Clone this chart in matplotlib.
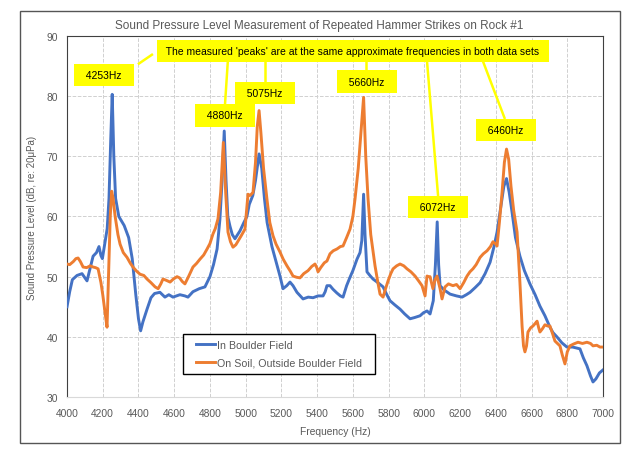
import numpy as np
import matplotlib.pyplot as plt
from matplotlib.patches import Rectangle

plt.rcParams['font.family'] = ['Liberation Sans', 'DejaVu Sans']

# In Boulder Field (blue)
boulder_freq = [4000, 4015, 4030, 4056, 4084, 4112, 4130, 4146, 4165, 4179, 4190, 4198, 4213, 4225,
                4235, 4245, 4253, 4262, 4272, 4290, 4320, 4345, 4365, 4385, 4400, 4412, 4425, 4448,
                4470, 4490, 4520, 4548, 4570, 4593, 4632, 4660, 4677, 4705, 4740, 4772, 4800, 4820,
                4840, 4856, 4868, 4880, 4890, 4900, 4912, 4925, 4940, 4955, 4968, 4990, 5007, 5020,
                5040, 5055, 5075, 5090, 5105, 5120, 5147, 5170, 5192, 5209, 5230, 5248, 5265, 5287,
                5321, 5350, 5377, 5405, 5433, 5445, 5455, 5472, 5489, 5510, 5530, 5545, 5565, 5584,
                5600, 5623, 5640, 5650, 5660, 5668, 5679, 5695, 5713, 5740, 5769, 5790, 5808, 5835,
                5864, 5890, 5920, 5945, 5976, 5995, 6015, 6032, 6050, 6062, 6072, 6080, 6088, 6110,
                6144, 6180, 6211, 6235, 6256, 6285, 6312, 6340, 6368, 6390, 6407, 6425, 6445, 6460,
                6475, 6491, 6510, 6535, 6560, 6591, 6620, 6647, 6675, 6703, 6720, 6742, 6770, 6798,
                6830, 6871, 6890, 6910, 6930, 6944, 6960, 6980, 7000]
boulder_spl = [45.0, 47.5, 49.5, 50.2, 50.5, 49.3, 51.5, 53.4, 54.0, 55.0, 53.5, 53.0, 55.8, 58.0,
               63.0, 73.0, 80.3, 70.0, 63.0, 60.0, 58.5, 56.5, 53.0, 47.0, 43.0, 41.0, 42.5, 44.6,
               46.5, 47.2, 47.4, 46.6, 47.0, 46.6, 47.0, 46.8, 46.6, 47.5, 48.0, 48.3, 50.0, 52.0,
               54.6, 59.6, 66.0, 74.2, 66.0, 60.0, 58.4, 57.0, 56.3, 57.0, 57.6, 59.0, 60.0, 62.0,
               63.5, 66.0, 70.4, 68.0, 63.0, 59.0, 55.0, 52.5, 50.1, 48.0, 48.5, 49.1, 48.5, 47.4,
               46.3, 46.6, 46.5, 46.8, 46.8, 47.5, 48.5, 48.5, 47.9, 47.3, 46.8, 46.6, 48.5, 49.9,
               51.0, 52.9, 54.0, 56.0, 63.7, 57.0, 50.8, 50.2, 49.6, 49.0, 48.3, 47.0, 46.0, 45.3,
               44.6, 43.8, 43.0, 43.2, 43.5, 44.0, 44.3, 43.8, 46.0, 52.0, 59.1, 52.0, 48.5, 47.8,
               47.1, 46.8, 46.6, 47.0, 47.4, 48.2, 49.0, 50.5, 52.4, 55.0, 57.4, 61.0, 65.0, 66.3,
               64.0, 60.7, 56.5, 53.4, 51.0, 48.8, 47.0, 45.1, 43.5, 41.6, 40.7, 40.0, 39.0, 38.3,
               38.3, 38.0, 36.5, 35.2, 33.5, 32.5, 33.0, 34.0, 34.5]

# On Soil, Outside Boulder Field (orange)
soil_freq = [4000, 4015, 4035, 4050, 4062, 4075, 4090, 4110, 4130, 4146, 4160, 4174, 4190, 4201,
             4213, 4224, 4232, 4242, 4250, 4258, 4269, 4285, 4297, 4315, 4336, 4355, 4369, 4390,
             4409, 4430, 4448, 4470, 4493, 4510, 4525, 4537, 4555, 4577, 4595, 4616, 4630, 4645,
             4660, 4680, 4705, 4725, 4744, 4765, 4784, 4800, 4817, 4830, 4845, 4860, 4875, 4888,
             4901, 4915, 4929, 4945, 4957, 4975, 4996, 5005, 5013, 5025, 5041, 5055, 5065, 5075,
             5085, 5100, 5119, 5135, 5153, 5170, 5192, 5210, 5231, 5250, 5265, 5285, 5304, 5325,
             5349, 5370, 5388, 5398, 5405, 5420, 5440, 5455, 5472, 5490, 5511, 5530, 5545, 5565,
             5584, 5600, 5612, 5630, 5645, 5660, 5672, 5685, 5700, 5724, 5740, 5752, 5769, 5783,
             5797, 5812, 5825, 5845, 5864, 5885, 5903, 5925, 5948, 5968, 5987, 6004, 6015, 6025,
             6032, 6040, 6048, 6060, 6071, 6080, 6088, 6099, 6116, 6135, 6160, 6180, 6200, 6220,
             6239, 6255, 6272, 6290, 6312, 6330, 6351, 6370, 6384, 6397, 6407, 6420, 6435, 6448,
             6460, 6472, 6485, 6500, 6519, 6535, 6547, 6555, 6563, 6572, 6580, 6595, 6608, 6620,
             6631, 6640, 6647, 6660, 6675, 6690, 6703, 6718, 6731, 6745, 6759, 6772, 6787, 6800,
             6815, 6835, 6860, 6885, 6910, 6930, 6944, 6965, 6983, 7000]
soil_spl = [52.1, 52.0, 52.5, 53.0, 53.1, 52.5, 51.6, 51.5, 51.8, 51.6, 51.5, 51.3, 49.0, 46.8,
            44.0, 41.6, 50.0, 60.0, 64.2, 63.0, 60.1, 57.0, 55.4, 54.0, 53.2, 52.2, 51.6, 50.9,
            50.4, 50.2, 49.6, 49.0, 48.3, 48.0, 48.8, 49.6, 49.4, 49.1, 49.6, 50.0, 49.8, 49.2,
            48.8, 50.0, 51.6, 52.2, 52.9, 53.6, 54.6, 55.5, 57.1, 58.0, 59.6, 64.0, 72.3, 64.0,
            57.4, 55.8, 54.9, 55.3, 55.9, 56.8, 57.9, 61.0, 63.7, 63.5, 64.0, 69.0, 75.0, 77.6,
            74.0, 68.0, 62.9, 59.0, 56.8, 55.4, 54.1, 52.9, 51.8, 50.9, 50.1, 49.9, 49.8, 50.5,
            51.0, 51.7, 52.1, 51.5, 50.8, 51.5, 52.3, 52.6, 53.8, 54.3, 54.6, 55.0, 55.1, 56.5,
            57.9, 60.0, 62.9, 68.0, 74.0, 79.8, 70.0, 62.9, 57.0, 51.8, 49.0, 47.1, 46.6, 48.0,
            49.3, 50.5, 51.3, 51.8, 52.1, 51.8, 51.3, 50.8, 50.1, 49.3, 48.5, 46.8, 50.1, 50.0,
            50.0, 49.0, 48.0, 49.5, 50.1, 49.0, 48.0, 46.3, 48.3, 48.8, 48.5, 48.7, 48.0, 49.0,
            50.1, 50.8, 51.3, 52.0, 53.2, 53.8, 54.3, 55.0, 55.8, 55.5, 55.1, 59.0, 64.0, 69.0,
            71.2, 69.5, 65.0, 61.0, 57.4, 49.0, 41.8, 38.5, 37.5, 38.5, 40.8, 41.5, 41.8, 42.2,
            42.6, 41.5, 40.8, 41.3, 42.0, 41.8, 41.8, 40.5, 39.3, 38.9, 38.5, 37.0, 35.5, 37.5,
            38.5, 38.8, 39.1, 38.9, 39.1, 38.9, 38.5, 38.6, 38.3, 38.3]

peak_labels = ["4253Hz", "4880Hz", "5075Hz", "5660Hz", "6072Hz", "6460Hz"]
note = "The measured 'peaks' are at the same approximate frequencies in both data sets"

gray = '#595959'
yellow = '#ffff00'

fig = plt.figure(figsize=(6.4, 4.56), dpi=100)
ax = fig.add_axes([0.1047, 0.1272, 0.8375, 0.7917])

ax.plot(boulder_freq, boulder_spl, color='#4472c4', lw=2.1, label='In Boulder Field', zorder=3)
ax.plot(soil_freq, soil_spl, color='#ed7d31', lw=2.1, label='On Soil, Outside Boulder Field', zorder=3)

ax.set_xlim(4000, 7000)
ax.set_ylim(30, 90)
ax.set_xticks(np.arange(4000, 7001, 200))
ax.set_yticks(np.arange(30, 91, 10))
ax.grid(True, color='#d0d0d0', ls='--', lw=0.7)
ax.tick_params(length=0, labelsize=7.4, labelcolor=gray)
ax.tick_params(axis='x', pad=8)
ax.tick_params(axis='y', pad=6.5)
for s in ['left', 'top', 'right']:
    ax.spines[s].set_color('#404040')
ax.spines['bottom'].set_color('#d9d9d9')

ax.set_xlabel('Frequency (Hz)', fontsize=7.4, color=gray, labelpad=6)
ax.set_ylabel('Sound Pressure Level (dB, re: 20μPa)', fontsize=7, color=gray, labelpad=7)
fig.text(0.498, 0.942, 'Sound Pressure Level Measurement of Repeated Hammer Strikes on Rock #1',
         ha='center', va='center', fontsize=8.5, color=gray)

# connector lines from the note to each peak label
connectors = [((4481, 87.0), (4397, 85.3)),
              ((4901, 86.2), (4884, 78.5)),
              ((5108, 86.2), (5108, 80.9)),
              ((5673, 85.8), (5673, 84.2)),
              ((6015, 85.8), (6077, 63.4)),
              ((6328, 85.8), (6451, 76.2))]
for (x0, y0), (x1, y1) in connectors:
    ax.plot([x0, x1], [y0, y1], color=yellow, lw=1.8, zorder=4, solid_capstyle='butt')

box = dict(boxstyle='square,pad=0.6', fc=yellow, ec='none')
ax.text(5600, 87.5, ' ' + note + ' ', ha='center', va='center', fontsize=7.5, bbox=box, zorder=5)
label_pos = [(4207, 83.5), (4884, 76.8), (5108, 80.5), (5679, 82.4), (6077, 61.6), (6457, 74.4)]
for lab, (x, y) in zip(peak_labels, label_pos):
    ax.text(x, y, '  ' + lab + '  ', ha='center', va='center', fontsize=7.5, bbox=box, zorder=5)

# legend with its own fixed frame
frame = Rectangle((0.216, 0.064), 0.358, 0.111, transform=ax.transAxes,
                  fc='white', ec='black', lw=1, zorder=6)
ax.add_patch(frame)
leg = ax.legend(loc='center', bbox_to_anchor=(0.216 + 0.358 / 2, 0.064 + 0.111 / 2),
                fontsize=7.7, frameon=False, handlelength=1.8, handletextpad=0.2,
                labelspacing=0.75, borderpad=0, borderaxespad=0)
leg.set_zorder(7)
for t in leg.get_texts():
    t.set_color(gray)

fig.patches.append(Rectangle((0.03125, 0.0263), 0.9375, 0.947, transform=fig.transFigure,
                             fill=False, ec='#555555', lw=1))

fig.savefig('out.png', dpi=100)
